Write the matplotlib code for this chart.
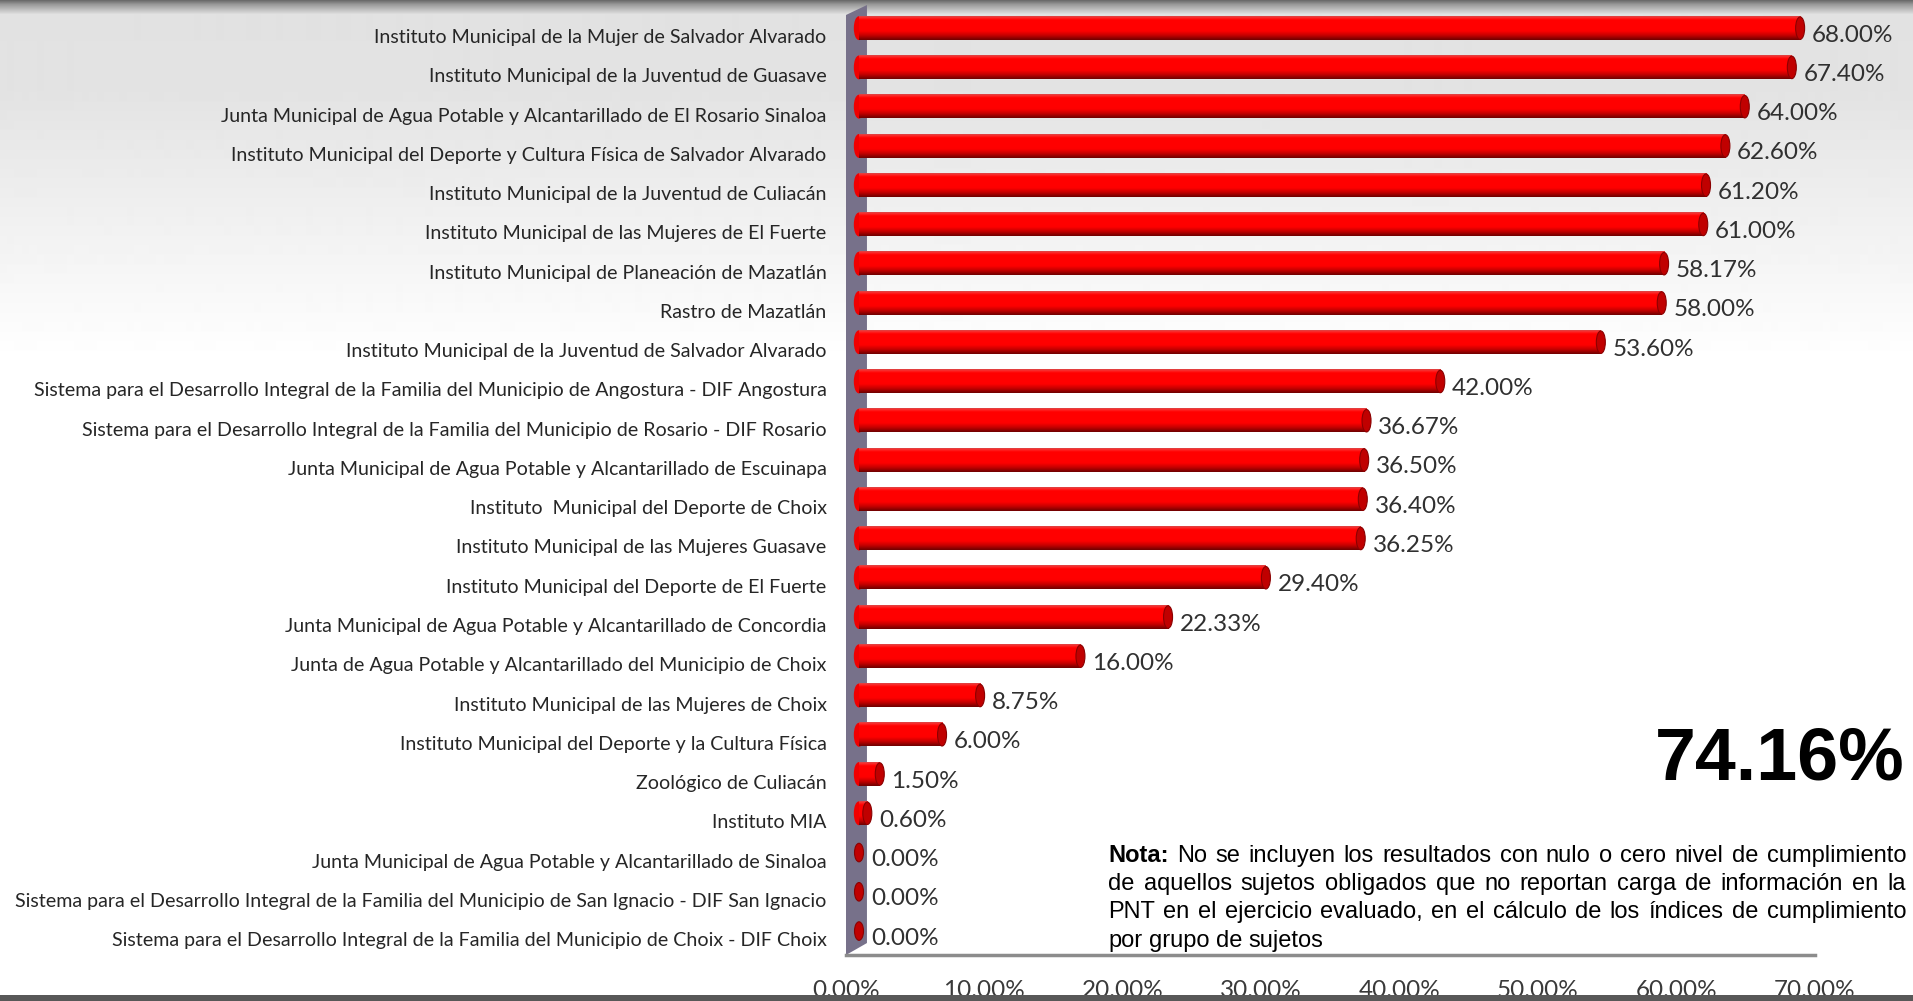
import matplotlib
matplotlib.use('Agg')
import matplotlib.pyplot as plt
import numpy as np
from matplotlib.patches import Ellipse, Polygon, Rectangle
from matplotlib.colors import LinearSegmentedColormap
from matplotlib.transforms import ScaledTranslation

categories = [
    'Instituto Municipal de la Mujer de Salvador Alvarado',
    'Instituto Municipal de la Juventud de Guasave',
    'Junta Municipal de Agua Potable y Alcantarillado de El Rosario Sinaloa',
    'Instituto Municipal del Deporte y Cultura Física de Salvador Alvarado',
    'Instituto Municipal de la Juventud de Culiacán',
    'Instituto Municipal de las Mujeres de El Fuerte',
    'Instituto Municipal de Planeación de Mazatlán',
    'Rastro de Mazatlán',
    'Instituto Municipal de la Juventud de Salvador Alvarado',
    'Sistema para el Desarrollo Integral de la Familia del Municipio de Angostura - DIF Angostura',
    'Sistema para el Desarrollo Integral de la Familia del Municipio de Rosario - DIF Rosario',
    'Junta Municipal de Agua Potable y Alcantarillado de Escuinapa',
    'Instituto  Municipal del Deporte de Choix',
    'Instituto Municipal de las Mujeres Guasave',
    'Instituto Municipal del Deporte de El Fuerte',
    'Junta Municipal de Agua Potable y Alcantarillado de Concordia',
    'Junta de Agua Potable y Alcantarillado del Municipio de Choix',
    'Instituto Municipal de las Mujeres de Choix',
    'Instituto Municipal del Deporte y la Cultura Física',
    'Zoológico de Culiacán',
    'Instituto MIA',
    'Junta Municipal de Agua Potable y Alcantarillado de Sinaloa',
    'Sistema para el Desarrollo Integral de la Familia del Municipio de San Ignacio - DIF San Ignacio',
    'Sistema para el Desarrollo Integral de la Familia del Municipio de Choix - DIF Choix',
]
values = [68.00, 67.40, 64.00, 62.60, 61.20, 61.00, 58.17, 58.00, 53.60, 42.00,
          36.67, 36.50, 36.40, 36.25, 29.40, 22.33, 16.00, 8.75, 6.00, 1.50,
          0.60, 0.00, 0.00, 0.00]
x_ticks = [0, 10, 20, 30, 40, 50, 60, 70]
total_label = '74.16%'
note_lines = [
    'Nota: No se incluyen los resultados con nulo o cero nivel de cumplimiento',
    'de aquellos sujetos obligados que no reportan carga de información en la',
    'PNT en el ejercicio evaluado, en el cálculo de los índices de cumplimiento',
    'por grupo de sujetos',
]

W, H = 1913, 1001
fig = plt.figure(figsize=(W / 100, H / 100), dpi=100)

# background: dark top edge, grey fading to white
bg = fig.add_axes([0, 0, 1, 1], zorder=-10)
rows = np.arange(H)
shade = np.interp(rows, [0, 4, 14, 90, 360, H], [0.42, 0.60, 0.885, 0.89, 1.0, 1.0])
bg.imshow(shade.reshape(-1, 1), cmap='gray', vmin=0, vmax=1, aspect='auto',
          extent=(0, 1, 0, 1), origin='upper', interpolation='bilinear')
bg.axis('off')

ax = fig.add_axes([846 / W, 1 - 955 / H, 998 / W, 950 / H])
ax.set_facecolor('none')

n = len(values)
ypos = np.arange(n)[::-1]
bar_h = 0.59
cap_w = 0.65
bar_cmap = LinearSegmentedColormap.from_list('cyl', [
    (0.0, '#6e0000'), (0.18, '#c20000'), (0.38, '#ff0000'),
    (0.85, '#ff0000'), (0.94, '#ff2a2a'), (1.0, '#d84848')])
grad = np.linspace(0, 1, 64).reshape(-1, 1)
lbl_shift = ScaledTranslation(0, -0.07, fig.dpi_scale_trans)

for v, y in zip(values, ypos):
    if v > 0:
        ax.add_patch(Ellipse((0, y), cap_w, bar_h * 0.97, color='#f00000', zorder=2.5))
        ax.imshow(grad, cmap=bar_cmap, extent=(0, v, y - bar_h / 2, y + bar_h / 2),
                  origin='lower', aspect='auto', zorder=3, interpolation='bicubic')
    ax.add_patch(Ellipse((v, y), cap_w, bar_h * (0.97 if v > 0 else 0.8),
                         facecolor='#c00000', edgecolor='#8a0000', lw=0.8, zorder=4))
    ax.text(v + 0.85, y, f'{v:.2f}%', va='center', ha='left', fontsize=17.5,
            family='Lato', color='#303030', zorder=5,
            transform=ax.transData + lbl_shift)

ax.set_xlim(-0.94, 71.17)
ax.set_ylim(-0.61, n - 1 + 0.59)

# side wall
wall = Polygon([(0, 0), (0, 0.9895), (0.021, 1.0), (0.021, 0.0126)], closed=True,
               transform=ax.transAxes, facecolor='#77718a', edgecolor='none',
               zorder=1, clip_on=False)
ax.add_patch(wall)

for s in ['top', 'right', 'left']:
    ax.spines[s].set_visible(False)
ax.spines['bottom'].set_color('#8c8c8c')
ax.spines['bottom'].set_linewidth(2.5)
ax.spines['bottom'].set_bounds(-0.94, 69.07)

ax.set_xticks(x_ticks, labels=[f'{t:.2f}%' for t in x_ticks])
ax.set_yticks(ypos, labels=categories)
ax.tick_params(axis='x', length=0, pad=18, labelsize=17.5, labelcolor='#3a3a3a')
ax.tick_params(axis='y', length=0, pad=14, labelsize=14.1, labelcolor='#262626')
for lbl in ax.get_xticklabels():
    lbl.set_family('Lato')
    lbl.set_transform(lbl.get_transform() + ScaledTranslation(-0.13, 0, fig.dpi_scale_trans))
for lbl in ax.get_yticklabels():
    lbl.set_family('Lato')
    lbl.set_transform(lbl.get_transform() + ScaledTranslation(0, -0.08, fig.dpi_scale_trans))

fig.text(1905 / W, 1 - 760 / H, total_label, ha='right', va='center', fontsize=53,
         weight='bold', family='Liberation Sans', color='black')

# justified note text
renderer = fig.canvas.get_renderer()
x0, x1 = 1108, 1906
baselines = [862, 890, 918, 947]
for k, line in enumerate(note_lines):
    words = line.split()
    objs = []
    for j, w in enumerate(words):
        t = fig.text(0, 1 - baselines[k] / H, w, ha='left', va='baseline', fontsize=17,
                     family='Liberation Sans', color='black',
                     weight='bold' if (k == 0 and j == 0) else 'normal')
        objs.append(t)
    widths = [t.get_window_extent(renderer).width for t in objs]
    if k < len(note_lines) - 1 and len(objs) > 1:
        gap = (x1 - x0 - sum(widths)) / (len(objs) - 1)
    else:
        gap = 6.6
    x = x0
    for t, wd in zip(objs, widths):
        t.set_x(x / W)
        x += wd + gap

# dark bottom band over tick labels
fig.add_artist(Rectangle((0, 0), 1, 6 / H, transform=fig.transFigure,
                         facecolor='#585858', edgecolor='none', zorder=10))

fig.savefig('out.png', dpi=100)
